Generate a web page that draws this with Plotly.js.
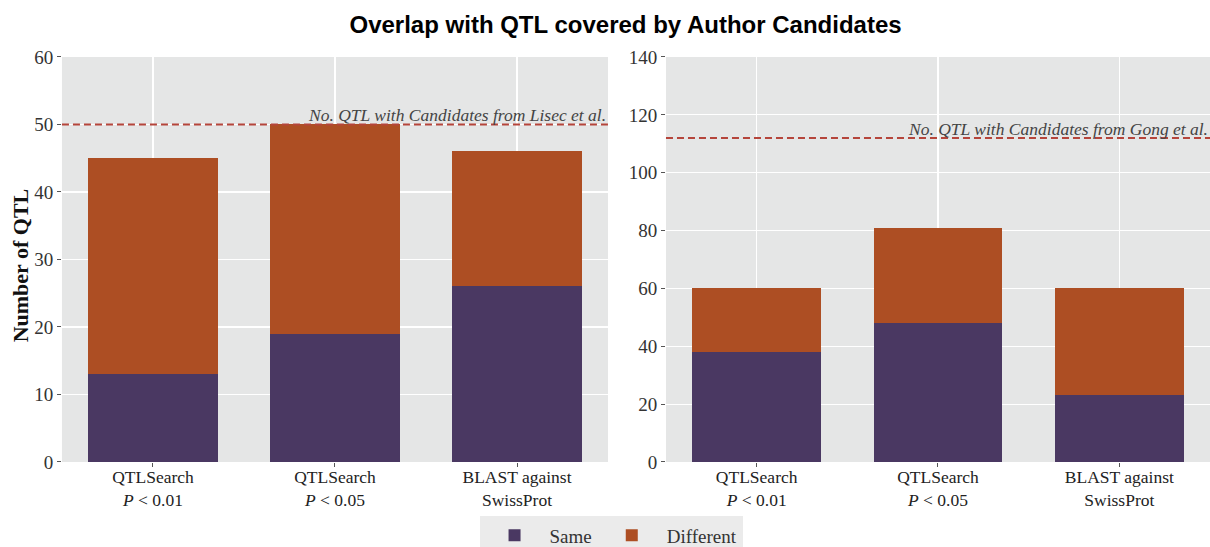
<!DOCTYPE html>
<html>
<head>
<meta charset="utf-8">
<script src="https://cdn.plot.ly/plotly-3.0.1.min.js"></script>
<style>html,body{margin:0;padding:0;background:#fff;}#chart{width:1210px;height:547px;}</style>
</head>
<body>
<div id="chart"></div>
<script>
const categories = ["QTLSearch<br><i>P</i> < 0.01", "QTLSearch<br><i>P</i> < 0.05", "BLAST against<br>SwissProt"];
const lisecSame = [13, 19, 26];
const lisecDifferent = [32, 31, 20];
const gongSame = [38, 48, 23];
const gongDifferent = [22, 33, 37];
const lisecTotal = 50;
const gongTotal = 112;
const leftTicks = [0, 10, 20, 30, 40, 50, 60];
const rightTicks = [0, 20, 40, 60, 80, 100, 120, 140];

const cSame = "#4a3862";
const cDiff = "#ad4e23";
const serif = "Liberation Serif, DejaVu Serif, serif";

const traces = [
  {type: "bar", x: categories, y: lisecSame, name: "Same", marker: {color: cSame}, xaxis: "x", yaxis: "y", legendgroup: "s"},
  {type: "bar", x: categories, y: lisecDifferent, name: "Different", marker: {color: cDiff}, xaxis: "x", yaxis: "y", legendgroup: "d"},
  {type: "bar", x: categories, y: gongSame, name: "Same", marker: {color: cSame}, xaxis: "x2", yaxis: "y2", showlegend: false, legendgroup: "s"},
  {type: "bar", x: categories, y: gongDifferent, name: "Different", marker: {color: cDiff}, xaxis: "x2", yaxis: "y2", showlegend: false, legendgroup: "d"}
];

const xCommon = {
  showgrid: true, gridcolor: "#ffffff", gridwidth: 1.2,
  ticks: "outside", ticklen: 4, tickcolor: "#555",
  tickfont: {family: serif, size: 17.5, color: "#222"},
  ticklabelstandoff: -5,
  zeroline: false, showline: false, fixedrange: true, automargin: false
};
const yCommon = {
  showgrid: true, gridcolor: "#ffffff", gridwidth: 1.2,
  ticks: "outside", ticklen: 4, tickcolor: "#555",
  tickfont: {family: serif, size: 19, color: "#333"},
  zeroline: false, showline: false, fixedrange: true, automargin: false
};

const layout = {
  width: 1210, height: 547,
  margin: {l: 0, r: 0, t: 0, b: 0, autoexpand: false},
  paper_bgcolor: "#ffffff",
  plot_bgcolor: "#e5e6e6",
  barmode: "stack",
  bargap: 0.29,
  title: {text: "<b>Overlap with QTL covered by Author Candidates</b>", x: 0.517, xanchor: "center", y: 0.955, yanchor: "middle",
          font: {family: "Liberation Sans, Arial, sans-serif", size: 24, color: "#000"}},
  xaxis: Object.assign({}, xCommon, {domain: [0.0512, 0.5025], anchor: "y"}),
  yaxis: Object.assign({}, yCommon, {domain: [0.1554, 0.8958], range: [0, 60], tickvals: leftTicks, anchor: "x"}),
  xaxis2: Object.assign({}, xCommon, {domain: [0.5504, 1.0], anchor: "y2"}),
  yaxis2: Object.assign({}, yCommon, {domain: [0.1554, 0.8958], range: [0, 140], tickvals: rightTicks, anchor: "x2"}),
  shapes: [
    {type: "line", xref: "x domain", yref: "y", x0: 0, x1: 1, y0: lisecTotal, y1: lisecTotal,
     line: {color: "#b5453b", width: 2, dash: "7px,4px"}},
    {type: "line", xref: "x2 domain", yref: "y2", x0: 0, x1: 1, y0: gongTotal, y1: gongTotal,
     line: {color: "#b5453b", width: 2, dash: "7px,4px"}}
  ],
  annotations: [
    {xref: "paper", yref: "paper", x: 0.0168, y: 0.5155, xanchor: "center", yanchor: "middle", showarrow: false, textangle: -90,
     text: "<b>Number of QTL</b>", font: {family: serif, size: 22, color: "#111"}},
    {xref: "x domain", yref: "y", x: 1, y: lisecTotal, xanchor: "right", yanchor: "bottom", showarrow: false, yshift: -3,
     text: "<i>No. QTL with Candidates from Lisec et al.</i>", font: {family: serif, size: 17.5, color: "#444"}},
    {xref: "x2 domain", yref: "y2", x: 1, y: gongTotal, xanchor: "right", yanchor: "bottom", showarrow: false, yshift: -3,
     text: "<i>No. QTL with Candidates from Gong et al.</i>", font: {family: serif, size: 17.5, color: "#444"}}
  ],
  showlegend: true,
  legend: {orientation: "h", x: 0.505, xanchor: "center", y: 0.056, yanchor: "top",
           bgcolor: "#ebebeb", font: {family: serif, size: 19, color: "#333"}, itemwidth: 60, traceorder: "normal"}
};

Plotly.newPlot("chart", traces, layout, {displayModeBar: false, staticPlot: true});
</script>
</body>
</html>
